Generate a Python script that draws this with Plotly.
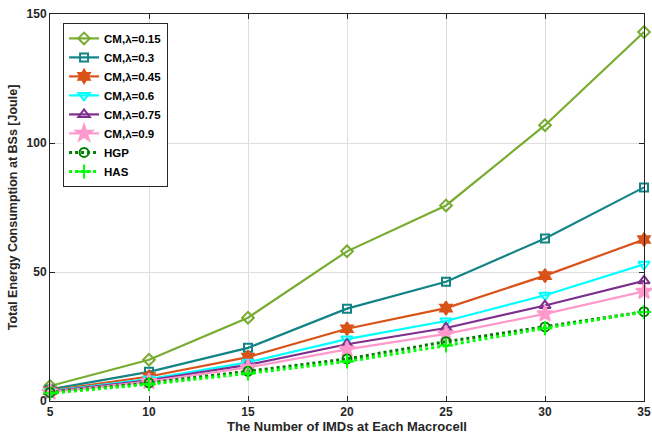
import plotly.graph_objects as go

x_vals = [5, 10, 15, 20, 25, 30, 35]
cm_015 = [5.8, 16.0, 32.3, 58.0, 75.8, 106.9, 143.0]
cm_030 = [4.5, 11.3, 20.6, 35.8, 46.2, 63.0, 82.8]
cm_045 = [4.0, 9.5, 17.0, 28.0, 36.0, 48.6, 62.6]
cm_060 = [3.8, 8.5, 15.0, 24.0, 31.0, 41.0, 53.0]
cm_075 = [3.6, 8.0, 14.0, 22.0, 28.3, 37.0, 46.6]
cm_090 = [3.4, 7.5, 13.0, 20.0, 26.0, 33.8, 42.5]
hgp = [3.3, 7.0, 11.5, 16.3, 23.0, 28.7, 34.6]
has = [3.0, 6.5, 10.7, 15.3, 21.5, 28.2, 34.5]

series = [
    ("CM,λ=0.15", cm_015, "#77AC30", "diamond-open", "solid", 9),
    ("CM,λ=0.3", cm_030, "#138486", "square-open", "solid", 8),
    ("CM,λ=0.45", cm_045, "#D95319", "hexagram", "solid", 10),
    ("CM,λ=0.6", cm_060, "#00FFFF", "triangle-down-open", "solid", 10),
    ("CM,λ=0.75", cm_075, "#7E2F8E", "triangle-up-open", "solid", 10),
    ("CM,λ=0.9", cm_090, "#FF99CC", "star", "solid", 12),
    ("HGP", hgp, "#008000", "circle-open", "dot", 9),
    ("HAS", has, "#00FF00", "cross-thin-open", "dot", 10),
]

fig = go.Figure()
for name, ys, color, sym, dash, size in series:
    fig.add_trace(go.Scatter(
        x=x_vals, y=ys, mode="lines+markers", name="<b>" + name + "</b>",
        cliponaxis=False,
        line=dict(color=color, width=2.2 if dash == "solid" else 3, dash=dash),
        marker=dict(symbol=sym, size=size, color=color,
                    line=dict(color=color, width=2)),
    ))

font_family = "Liberation Sans, Arial, Helvetica, sans-serif"
fig.update_layout(
    width=652, height=436,
    margin=dict(l=50, r=8, t=14, b=35),
    paper_bgcolor="white", plot_bgcolor="white",
    font=dict(family=font_family, size=12, color="#262626"),
    showlegend=True,
    legend=dict(x=0.022, y=0.977, xanchor="left", yanchor="top",
                bgcolor="white", bordercolor="#262626", borderwidth=1,
                font=dict(family=font_family, size=11.5, color="black"),
                tracegroupgap=0, itemwidth=30),
    xaxis=dict(range=[5, 35], tickvals=x_vals, showgrid=True, gridcolor="#DEDEDE",
               showline=True, linecolor="#262626", linewidth=1, mirror="ticks",
               ticks="inside", ticklen=5, tickcolor="#262626", zeroline=False,
               automargin=False, ticklabeloverflow="allow",
               tickfont=dict(size=12, weight="bold"),
               title=dict(text="<b>The Number of IMDs at Each Macrocell</b>",
                          font=dict(size=13), standoff=2)),
    yaxis=dict(range=[0, 150], tickvals=[0, 50, 100, 150], showgrid=True, gridcolor="#DEDEDE",
               showline=True, linecolor="#262626", linewidth=1, mirror="ticks",
               ticks="inside", ticklen=5, tickcolor="#262626", zeroline=False,
               automargin=False, ticklabeloverflow="allow",
               tickfont=dict(size=12, weight="bold"),
               title=dict(text="<b>Total Energy Consumption at BSs [Joule]</b>",
                          font=dict(size=12.5), standoff=6)),
)

fig.write_html("out.html", config={"displayModeBar": False},
               post_script="document.body.style.margin='0';")
